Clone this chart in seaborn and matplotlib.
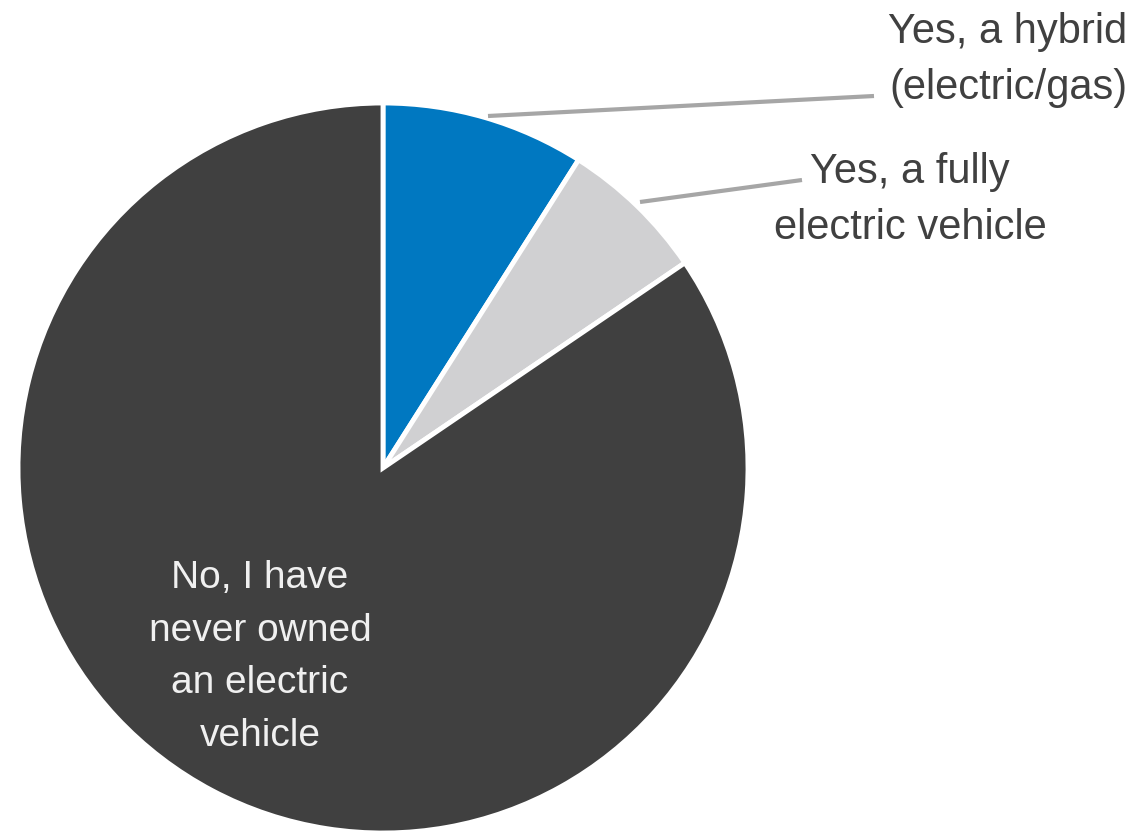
import matplotlib
matplotlib.use("Agg")
import matplotlib.pyplot as plt
import seaborn as sns
from matplotlib import font_manager

labels = ["Yes, a hybrid\n(electric/gas)", "Yes, a fully\nelectric vehicle",
          "No, I have\nnever owned\nan electric\nvehicle"]
values = [9.0, 6.5, 84.5]
colors = ["#0078C1", "#D0D0D2", "#404040"]

sns.set_theme(style="white")
names = {f.name for f in font_manager.fontManager.ttflist}
fam = "Liberation Sans Narrow" if "Liberation Sans Narrow" in names else "Liberation Sans"
plt.rcParams["font.family"] = [fam, "DejaVu Sans"]

W, H = 1133, 837
fig = plt.figure(figsize=(W / 100, H / 100), dpi=100)
cx, cy, r = 383, 469, 365
ax = fig.add_axes([(cx - r) / W, (H - cy - r) / H, 2 * r / W, 2 * r / H])
wedges, _ = ax.pie(values, colors=colors, startangle=90, counterclock=False,
                   radius=1.0, wedgeprops=dict(edgecolor="white", linewidth=3.5))
ax.set_xlim(-1, 1)
ax.set_ylim(-1, 1)
ax.set_aspect("equal")
ax.axis("off")

def px(x, y):
    return ((x - (cx - r)) / (2 * r) * 2 - 1, 1 - (y - (cy - r)) / (2 * r) * 2)

# leader lines
for (x0, y0), (x1, y1) in [((488, 117), (874, 97)), ((640, 203), (802, 181))]:
    a, b = px(x0, y0)
    c, d = px(x1, y1)
    ax.plot([a, c], [b, d], color="#A6A6A6", lw=3, clip_on=False,
            solid_capstyle="butt")

tc = "#404040"
fig.text(1127 / W, 1 - 60 / H, labels[0], ha="right", va="center",
         fontsize=30, color=tc, linespacing=1.5)
fig.text(910 / W, 1 - 200 / H, labels[1], ha="center", va="center",
         fontsize=30, color=tc, linespacing=1.5)
fig.text(260 / W, 1 - 657 / H, labels[2], ha="center", va="center",
         fontsize=28, color="#F0F0F0", linespacing=1.6)

fig.savefig("out.png", dpi=100)
